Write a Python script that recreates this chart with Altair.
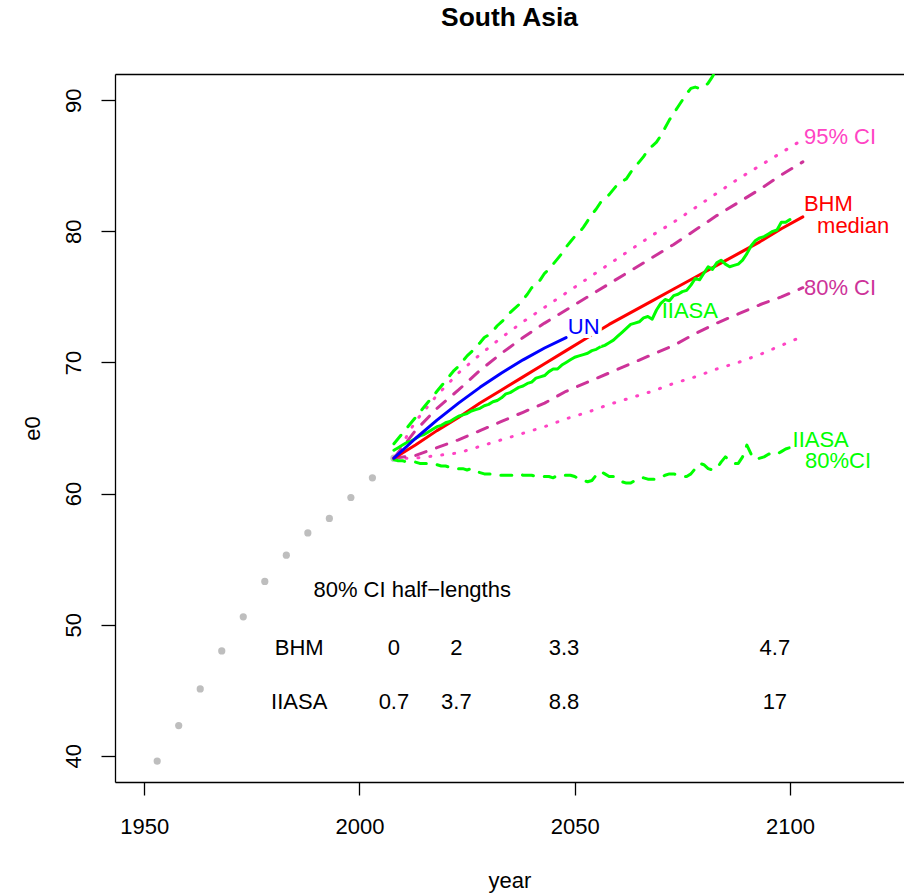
import altair as alt
import pandas as pd

FONT = "Liberation Sans"

# ---- observed life expectancy (five-year periods) ----
obs_years = [1953, 1958, 1963, 1968, 1973, 1978, 1983, 1988, 1993, 1998, 2003, 2008]
obs_e0 = [39.6, 42.3, 45.1, 48.0, 50.6, 53.3, 55.3, 57.0, 58.1, 59.7, 61.2, 62.7]

# ---- BHM projections (five-year steps) ----
bhm_years = [2008, 2013, 2018, 2023, 2028, 2033, 2038, 2043, 2048, 2053,
             2058, 2063, 2068, 2073, 2078, 2083, 2088, 2093, 2098, 2103]
bhm_median = [62.7, 63.7, 64.8, 65.8, 66.9, 67.9, 68.9, 69.9, 70.9, 71.9,
              72.9, 73.8, 74.7, 75.6, 76.5, 77.4, 78.3, 79.2, 80.2, 81.1]
bhm_hi80 = [62.7, 64.8, 66.5, 67.9, 69.4, 70.7, 71.9, 73.0, 74.0, 75.0,
            76.0, 77.0, 78.0, 79.0, 80.1, 81.2, 82.2, 83.2, 84.3, 85.3]
bhm_lo80 = [62.7, 62.9, 63.5, 64.1, 64.8, 65.5, 66.2, 66.9, 67.8, 68.5,
            69.2, 69.9, 70.6, 71.3, 72.2, 73.0, 73.7, 74.4, 75.0, 75.7]
bhm_hi95 = [62.7, 65.5, 67.5, 69.2, 70.6, 71.9, 73.1, 74.2, 75.3, 76.4,
            77.5, 78.6, 79.7, 80.7, 81.8, 82.9, 84.0, 85.0, 86.0, 87.0]
bhm_lo95 = [62.7, 62.7, 62.9, 63.1, 63.6, 64.1, 64.6, 65.1, 65.7, 66.2,
            66.8, 67.3, 67.8, 68.4, 68.9, 69.5, 70.0, 70.6, 71.3, 72.0]

# ---- UN projection ----
un_years = [2008, 2013, 2018, 2023, 2028, 2033, 2038, 2043, 2048]
un_e0 = [62.7, 64.2, 65.6, 66.9, 68.1, 69.2, 70.2, 71.1, 71.9]

# ---- IIASA projection (annual) ----
iiasa_years = list(range(2008, 2101))
iiasa_median = [
    63.3, 63.5, 63.7, 63.9, 64.0, 64.2, 64.4, 64.5, 64.7, 64.9,
    65.1, 65.2, 65.4, 65.5, 65.7, 65.9, 66.0, 66.1, 66.3, 66.4,
    66.5, 66.7, 66.8, 67.0, 67.1, 67.3, 67.6, 67.7, 67.9, 68.1,
    68.2, 68.4, 68.5, 68.8, 68.9, 69.0, 69.3, 69.5, 69.5, 69.8,
    70.0, 70.2, 70.4, 70.5, 70.6, 70.7, 70.9, 71.0, 71.2, 71.3,
    71.5, 71.7, 72.0, 72.3, 72.6, 72.9, 73.0, 73.1, 73.4, 73.5,
    73.3, 74.0, 74.5, 74.8, 74.7, 75.1, 75.2, 75.4, 75.5, 75.9,
    76.4, 76.3, 76.8, 77.3, 77.1, 77.6, 77.8, 77.5, 77.3, 77.4,
    77.5, 77.8, 78.3, 78.9, 79.3, 79.5, 79.6, 79.8, 80.0, 80.1,
    80.7, 80.7, 80.9]
iiasa_hi80 = [
    63.8, 64.2, 64.6, 65.0, 65.4, 65.8, 66.2, 66.6, 67.0, 67.4,
    67.8, 68.2, 68.6, 69.0, 69.4, 69.7, 70.1, 70.5, 70.8, 71.2,
    71.5, 71.9, 72.1, 72.4, 72.8, 73.1, 73.4, 73.8, 74.1, 74.4,
    74.8, 75.2, 75.7, 75.9, 76.3, 76.8, 77.1, 77.5, 77.9, 78.3,
    78.8, 79.2, 79.6, 79.9, 80.3, 80.8, 81.3, 81.7, 82.2, 82.5,
    82.8, 83.2, 83.6, 83.8, 84.0, 84.5, 84.9, 85.3, 85.7, 86.2,
    86.5, 86.8, 87.3, 87.9, 88.5, 89.0, 89.5, 90.0, 90.5, 90.9,
    91.0, 90.9, 91.0, 91.3, 91.8, 92.4, 92.9, 93.5, 94.0, 94.4,
    94.9, 95.3, 95.7, 96.0, 96.3, 96.6, 96.9, 97.1, 97.3, 97.6,
    97.8, 98.0, 98.2]
iiasa_lo80 = [
    62.6, 62.5, 62.5, 62.4, 62.4, 62.4, 62.3, 62.3, 62.3, 62.2,
    62.2, 62.1, 62.1, 62.0, 62.0, 61.9, 61.9, 61.8, 61.9, 61.7,
    61.6, 61.5, 61.5, 61.5, 61.4, 61.4, 61.4, 61.4, 61.4, 61.5,
    61.4, 61.4, 61.4, 61.3, 61.3, 61.3, 61.3, 61.2, 61.4, 61.4,
    61.4, 61.4, 61.3, 61.1, 61.0, 60.9, 61.0, 61.4, 61.7, 61.5,
    61.3, 61.3, 61.1, 60.9, 60.8, 60.8, 61.0, 61.2, 61.2, 61.1,
    61.1, 61.1, 61.2, 61.4, 61.5, 61.5, 61.4, 61.3, 61.3, 61.5,
    61.9, 62.3, 62.2, 61.9, 61.8, 61.9, 62.4, 62.8, 62.5, 62.3,
    62.3, 62.8, 63.7, 63.0, 62.6, 62.7, 62.8, 63.0, 63.1, 63.0,
    63.2, 63.4, 63.5]

# ---- 80% CI half-length table ----
hl_years = [2008, 2022.5, 2047.5, 2096.5]
hl_bhm = ["0", "2", "3.3", "4.7"]
hl_iiasa = ["0.7", "3.7", "8.8", "17"]

GREEN = "#00FF00"
RED = "#FF0000"
BLUE = "#0000FF"
PURPLE = "#CD3399"
PINK = "#FF44C4"
GREY = "#BEBEBE"

x_scale = alt.Scale(domain=[1943.2, 2126.5], nice=False, zero=False)
y_scale = alt.Scale(domain=[38, 92], nice=False, zero=False)

y_axis = alt.Axis(
    values=[40, 50, 60, 70, 80, 90], tickSize=14, tickWidth=1.3, tickColor="black",
    domainColor="black", domainWidth=1.3, grid=False, format="d",
    labelAngle=270, labelAlign="center", labelBaseline="alphabetic", labelPadding=21,
    labelFont=FONT, labelFontSize=22, labelColor="black", labelFlush=False,
    title="e0", titleFont=FONT, titleFontSize=22, titleFontWeight="normal",
    titleColor="black", titleAngle=270, titleBaseline="middle", titleX=-83, titleY=354,
)

bottom_axis = alt.Axis(
    values=[1950, 2000, 2050, 2100], tickSize=13, tickWidth=1.3, tickColor="black",
    domainColor="black", domainWidth=1.3, grid=False, format="d",
    labelBaseline="middle", labelPadding=31, labelFont=FONT, labelFontSize=22,
    labelColor="black", labelFlush=False, labelOverlap=False,
    title="year", titleFont=FONT, titleFontSize=22, titleFontWeight="normal",
    titleColor="black", titleBaseline="middle", titleY=98,
)

top_axis = alt.Axis(orient="top", ticks=False, labels=False, title=None,
                    domainColor="black", domainWidth=1.3, grid=False)


def enc(xcol="year", ycol="e0", axis=None):
    return dict(
        x=alt.X(xcol, type="quantitative", scale=x_scale, axis=axis),
        y=alt.Y(ycol, type="quantitative", scale=y_scale, axis=y_axis),
    )


def series(years, values):
    return pd.DataFrame({"year": years, "e0": values})


def line(years, values, color, dash=None, cap="round", width=3, axis=None):
    kw = dict(color=color, strokeWidth=width, strokeCap=cap, strokeJoin="round", clip=True)
    if dash is not None:
        kw["strokeDash"] = dash
    return alt.Chart(series(years, values)).mark_line(**kw).encode(**enc(axis=axis))


DASHED = [11, 11]
DOTTED = [1, 11]

obs = alt.Chart(series(obs_years, obs_e0)).mark_circle(
    color=GREY, size=52, opacity=1
).encode(**enc(axis=bottom_axis))

frame_top = alt.Chart(series(obs_years, obs_e0)).mark_point(opacity=0).encode(
    **enc(axis=top_axis))

layers = [
    obs,
    frame_top,
    line(bhm_years, bhm_hi95, PINK, DOTTED),
    line(bhm_years, bhm_lo95, PINK, DOTTED),
    line(bhm_years, bhm_hi80, PURPLE, DASHED),
    line(bhm_years, bhm_lo80, PURPLE, DASHED),
    line(iiasa_years, iiasa_hi80, GREEN, DASHED),
    line(iiasa_years, iiasa_lo80, GREEN, DASHED),
    line(bhm_years, bhm_median, RED),
    line(iiasa_years, iiasa_median, GREEN),
    line(un_years, un_e0, BLUE),
]

# labels placed at the ends of the curves
lab_text = ["95% CI", "BHM", "median", "80% CI", "IIASA", "IIASA", "80%CI"]
lab_year = [2103.25, 2103.25, 2106.3, 2103.25, 2070.2, 2100.6, 2103.5]
lab_e0 = [87.2, 82.1, 80.4, 75.7, 73.9, 64.1, 62.45]
lab_color = [PINK, RED, RED, PURPLE, GREEN, GREEN, GREEN]
labels_df = pd.DataFrame({"year": lab_year, "e0": lab_e0, "txt": lab_text, "col": lab_color})
labels = alt.Chart(labels_df).mark_text(
    align="left", baseline="middle", font=FONT, fontSize=22
).encode(text="txt:N", color=alt.Color("col:N", scale=None), **enc())

un_df = pd.DataFrame({"year": [2048.4], "e0": [72.67], "txt": ["UN"]})
un_knock = alt.Chart(un_df).mark_text(
    align="left", baseline="middle", font=FONT, fontSize=22,
    stroke="white", strokeWidth=8, color="white"
).encode(text="txt:N", **enc())
un_label = alt.Chart(un_df).mark_text(
    align="left", baseline="middle", font=FONT, fontSize=22, color=BLUE
).encode(text="txt:N", **enc())

# 80% CI half-length table
table_rows = pd.DataFrame({
    "year": [1986.0, 1986.0] + hl_years + hl_years,
    "e0": [48.24, 44.12] + [48.24] * 4 + [44.12] * 4,
    "txt": ["BHM", "IIASA"] + hl_bhm + hl_iiasa,
})
table = alt.Chart(table_rows).mark_text(
    align="center", baseline="middle", font=FONT, fontSize=22, color="black"
).encode(text="txt:N", **enc())
table_head = alt.Chart(pd.DataFrame({"year": [1989.3], "e0": [52.64],
                                     "txt": ["80% CI half\u2212lengths"]})).mark_text(
    align="left", baseline="middle", font=FONT, fontSize=22, color="black"
).encode(text="txt:N", **enc())

chart = alt.layer(
    *layers, labels, un_knock, un_label, table, table_head
).resolve_axis(x="independent").properties(
    width=789, height=708,
    autosize=alt.AutoSizeParams(type="none"),
    padding={"left": 115, "top": 74, "right": 0, "bottom": 111},
    title=alt.TitleParams("South Asia", font=FONT, fontSize=26.4, fontWeight="bold",
                          color="black", anchor="middle", baseline="alphabetic",
                          offset=22),
).configure_view(stroke=None).configure(background="white")

chart.save("out.html", embed_options={"renderer": "svg", "actions": False})
